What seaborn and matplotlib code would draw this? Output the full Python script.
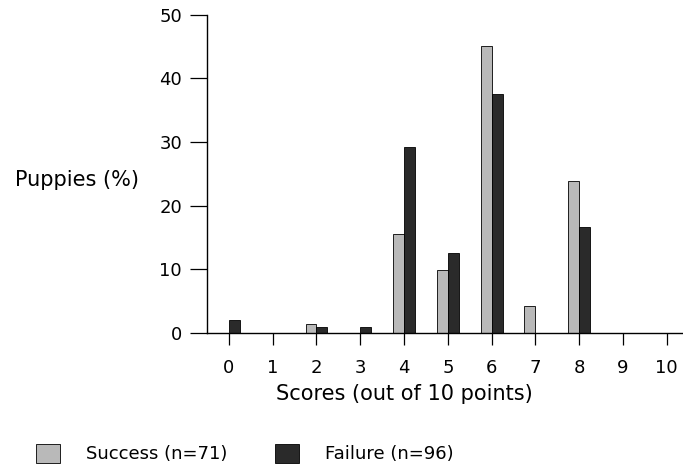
import pandas as pd
import matplotlib
matplotlib.use("Agg")
import matplotlib.pyplot as plt
import seaborn as sns

# scores and percentage of puppies per group
scores = list(range(0, 11))
success_pct = [0, 0, 1.4, 0, 15.5, 9.9, 45.1, 4.2, 23.9, 0, 0]
failure_pct = [2.1, 0, 1.0, 1.0, 29.2, 12.5, 37.5, 0, 16.7, 0, 0]
groups = ["Success (n=71)", "Failure (n=96)"]
y_ticks = [0, 10, 20, 30, 40, 50]

df = pd.DataFrame({
    "score": scores * 2,
    "pct": success_pct + failure_pct,
    "group": [groups[0]] * len(scores) + [groups[1]] * len(scores),
})

sns.set_style("white")
plt.rcParams["font.family"] = ["DejaVu Sans"]
plt.rcParams["text.color"] = "black"
plt.rcParams["axes.labelcolor"] = "black"
plt.rcParams["xtick.color"] = "black"
plt.rcParams["ytick.color"] = "black"

fig = plt.figure(figsize=(6.83, 4.69), dpi=100)
ax = fig.add_axes([207 / 683, 1 - 333 / 469, 476 / 683, (333 - 14.5) / 469])

sns.barplot(data=df, x="score", y="pct", hue="group", order=scores,
            hue_order=groups, palette={groups[0]: "#b9b9b9", groups[1]: "#2a2a2a"},
            width=0.5, edgecolor="black", linewidth=0.6, ax=ax)

ax.set_xlim(-0.5, 10.37)
ax.set_ylim(0, 50)
ax.set_yticks(y_ticks)
ax.set_yticklabels([str(t) for t in y_ticks])
ax.set_xticks(range(len(scores)))
ax.set_xticklabels([str(s) for s in scores])
for s in ["top", "right"]:
    ax.spines[s].set_visible(False)
for s in ["left", "bottom"]:
    ax.spines[s].set_color("black")
    ax.spines[s].set_linewidth(1.0)

ax.tick_params(axis="y", direction="out", length=12, width=0.9, pad=6,
               labelsize=13, labelcolor="black", color="black", left=True)
ax.tick_params(axis="x", direction="out", length=8.5, width=0.9, pad=10,
               labelsize=13, labelcolor="black", color="black", bottom=True)

ax.set_xlabel("Scores (out of 10 points)", fontsize=15, va="center", color="black")
ax.xaxis.set_label_coords(0.414, -0.19)
ax.set_ylabel("Puppies (%)", fontsize=15, rotation=0, ha="center", va="center",
              color="black")
ax.yaxis.set_label_coords(-0.273, 0.48)

handles, labels = ax.get_legend_handles_labels()
ax.get_legend().remove()
fig.legend(handles, labels, loc="lower left", bbox_to_anchor=(0.053, 0.012),
           ncol=2, frameon=False, fontsize=13, borderpad=0, borderaxespad=0,
           handlelength=1.33, handleheight=1.22, handletextpad=1.45,
           columnspacing=2.6, labelcolor="black")

fig.savefig("out.png", dpi=100)
